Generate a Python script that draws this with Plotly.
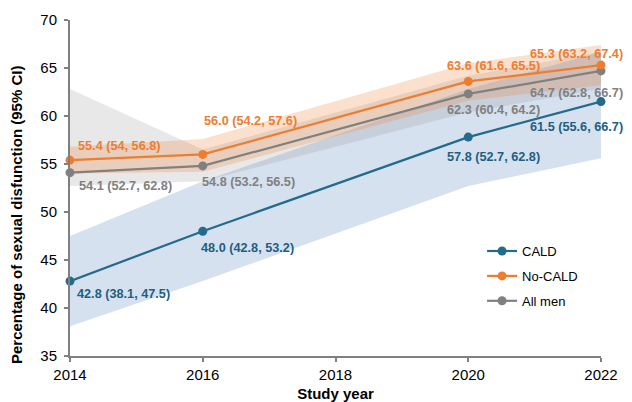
import plotly.graph_objects as go

years = [2014, 2016, 2020, 2022]

cald = [42.8, 48.0, 57.8, 61.5]
cald_lo = [38.1, 42.8, 52.7, 55.6]
cald_hi = [47.5, 53.2, 62.8, 66.7]

nocald = [55.4, 56.0, 63.6, 65.3]
nocald_lo = [54, 54.2, 61.6, 63.2]
nocald_hi = [56.8, 57.6, 65.5, 67.4]

allmen = [54.1, 54.8, 62.3, 64.7]
allmen_lo = [52.7, 53.2, 60.4, 62.8]
allmen_hi = [62.8, 56.5, 64.2, 66.7]

x_ticks = [2014, 2016, 2018, 2020, 2022]
y_ticks = [35, 40, 45, 50, 55, 60, 65, 70]

FONT = "Liberation Sans, Arial, sans-serif"

series = [
    dict(name="CALD", y=cald, lo=cald_lo, hi=cald_hi, color="#236a8c", label="#1f5f80",
         band="rgba(167,192,220,0.48)", rank=1,
         xs=[5, -4, -23, -73], ys=[-13, -17, -20, -25]),
    dict(name="No-CALD", y=nocald, lo=nocald_lo, hi=nocald_hi, color="#ed7d31", label="#ed7d31",
         band="rgba(237,125,49,0.24)", rank=2,
         xs=[6, -1, -23, -73], ys=[14, 33, 15, 11]),
    dict(name="All men", y=allmen, lo=allmen_lo, hi=allmen_hi, color="#808080", label="#808080",
         band="rgba(150,150,150,0.22)", rank=3,
         xs=[7, -3, -23, -73], ys=[-13, -16, -16, -22]),
]

fig = go.Figure()

# bands (blue first, then grey, then orange)
for s in [series[0], series[2], series[1]]:
    fig.add_trace(go.Scatter(
        x=years + years[::-1], y=s["hi"] + s["lo"][::-1],
        fill="toself", fillcolor=s["band"], line=dict(width=0),
        mode="lines", showlegend=False, hoverinfo="skip"))

for s in [series[0], series[2], series[1]]:
    fig.add_trace(go.Scatter(
        x=years, y=s["y"], name=s["name"], mode="lines+markers",
        line=dict(color=s["color"], width=2.2),
        marker=dict(color=s["color"], size=9),
        cliponaxis=False, legendgroup=s["name"], legendrank=s["rank"]))

annotations = []
for s in series:
    for i, yr in enumerate(years):
        txt = f"{s['y'][i]:.1f} ({s['lo'][i]:g}, {s['hi'][i]:g})"
        annotations.append(dict(
            x=yr, y=s["y"][i], xref="x", yref="y", text=txt, showarrow=False,
            xanchor="left", yanchor="middle", xshift=s["xs"][i], yshift=s["ys"][i],
            font=dict(family=FONT, size=12.7, color=s["label"], weight="bold")))

annotations.append(dict(
    x=0, y=0.5, xref="paper", yref="paper", text="<b>Percentage of sexual disfunction (95% CI)</b>",
    showarrow=False, textangle=-90, xanchor="center", yanchor="middle",
    xshift=-54, yshift=-27, font=dict(family=FONT, size=15, color="black")))

axis_common = dict(showgrid=False, zeroline=False, linecolor="#808080", linewidth=2,
                   tickcolor="#808080", tickwidth=1.5, automargin=False)

fig.update_layout(
    width=624, height=394,
    margin=dict(l=62, r=31, t=12, b=46),
    plot_bgcolor="white", paper_bgcolor="white",
    font=dict(family=FONT, color="black"),
    annotations=annotations,
    showlegend=True,
    legend=dict(x=0.776, y=0.357, xanchor="left", yanchor="top",
                font=dict(family=FONT, size=13, color="black"),
                bgcolor="rgba(0,0,0,0)", traceorder="grouped", tracegroupgap=5,
                itemwidth=30),
    xaxis=dict(range=[2014, 2022], tickvals=x_ticks, ticks="outside", ticklen=4,
               showline=True, tickfont=dict(size=15, family=FONT),
               title=dict(text="<b>Study year</b>", font=dict(size=15, family=FONT), standoff=6),
               **axis_common),
    yaxis=dict(range=[35, 70], tickvals=y_ticks, ticks="outside", ticklen=4,
               showline=True, tickfont=dict(size=15, family=FONT), ticklabelstandoff=4,
               **axis_common),
    xaxis2=dict(range=[2014, 2022], tickvals=x_ticks, ticks="inside", ticklen=4,
                overlaying="x", anchor="y", side="bottom", showticklabels=False,
                showline=False, showgrid=False, zeroline=False,
                tickcolor="#808080", tickwidth=1.5),
    yaxis2=dict(range=[35, 70], tickvals=y_ticks, ticks="inside", ticklen=4,
                overlaying="y", anchor="x", side="left", showticklabels=False,
                showline=False, showgrid=False, zeroline=False,
                tickcolor="#808080", tickwidth=1.5),
)

fig.write_html("out.html")
